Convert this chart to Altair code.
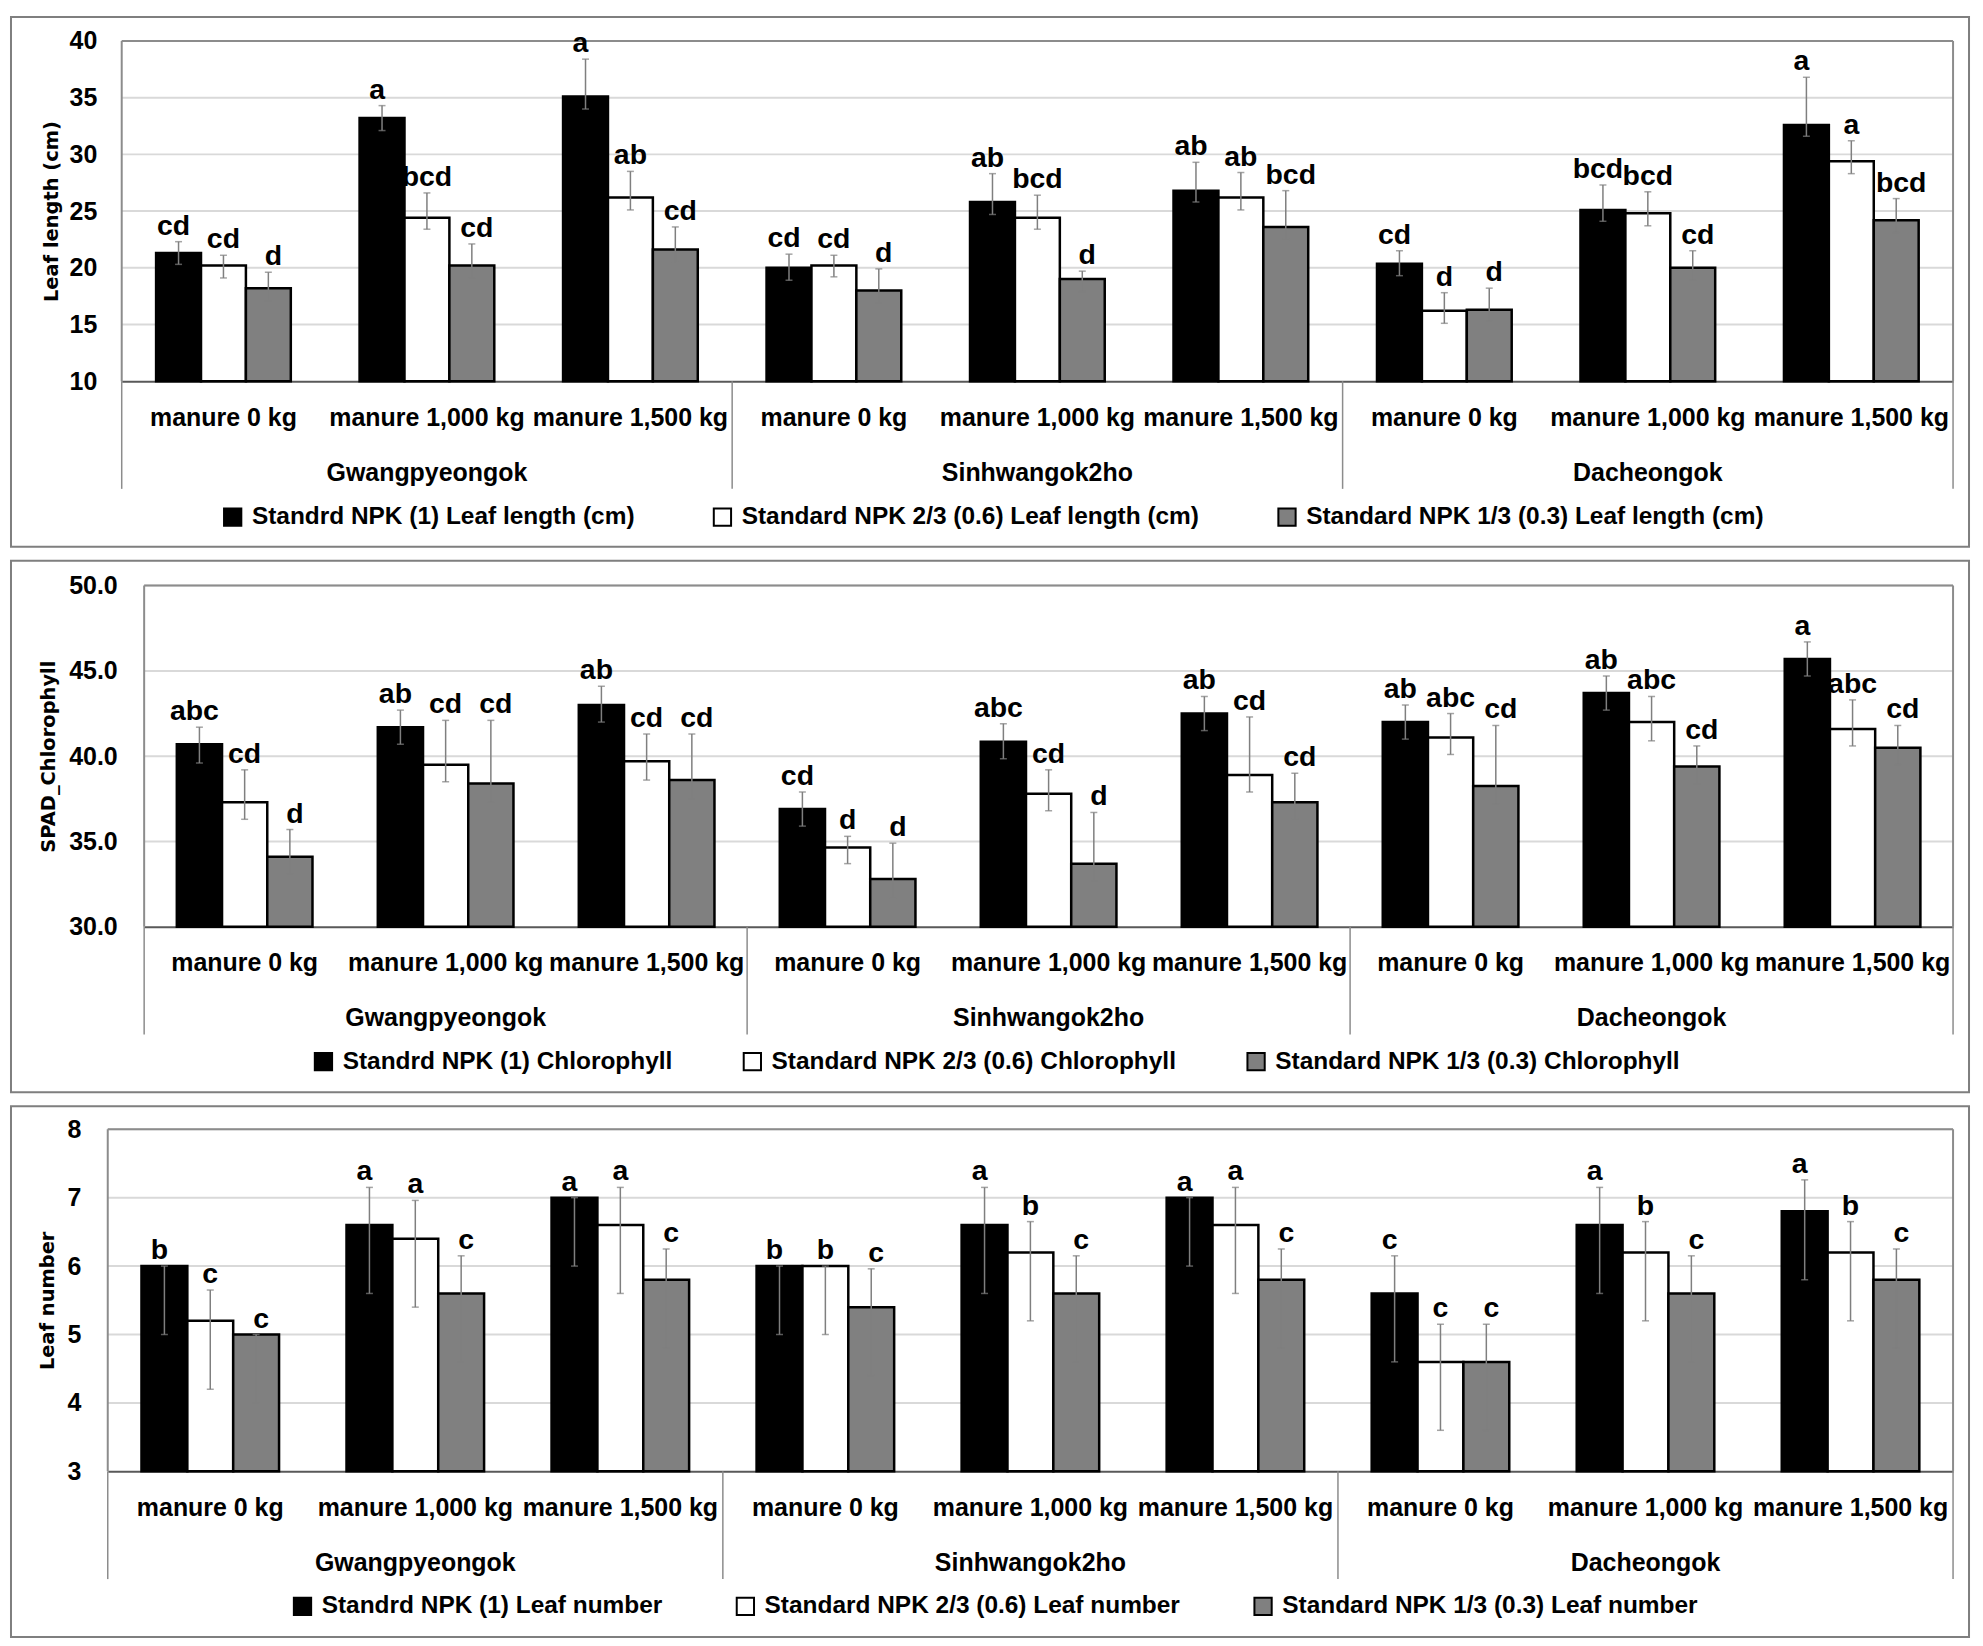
import altair as alt
import pandas as pd

# ---------------- data ----------------
cultivars = ["Gwangpyeongok", "Sinhwangok2ho", "Dacheongok"]
manures = ["manure 0 kg", "manure 1,000 kg", "manure 1,500 kg"]

# Panel 1: leaf length (cm)
len_series = ["Standrd NPK (1) Leaf length (cm)",
              "Standard NPK 2/3 (0.6) Leaf length (cm)",
              "Standard NPK 1/3 (0.3) Leaf length (cm)"]
len_std = [21.3, 33.2, 35.1, 20.0, 25.8, 26.8, 20.35, 25.1, 32.6]
len_23 = [20.2, 24.4, 26.2, 20.2, 24.4, 26.2, 16.2, 24.8, 29.4]
len_13 = [18.2, 20.2, 21.6, 18.0, 19.0, 23.6, 16.3, 20.0, 24.2]
len_std_lo = [20.3, 32.1, 34.0, 18.9, 24.7, 25.8, 19.3, 24.1, 31.6]
len_std_hi = [22.3, 34.3, 38.4, 21.2, 28.3, 29.3, 21.5, 27.3, 36.8]
len_23_lo = [19.1, 23.4, 25.1, 19.2, 23.4, 25.1, 15.1, 23.7, 28.3]
len_23_hi = [21.1, 26.6, 28.5, 21.1, 26.4, 28.4, 17.8, 26.7, 31.2]
len_13_lo = [17.1, 19.1, 20.5, 16.9, 17.9, 22.5, 15.3, 18.9, 23.1]
len_13_hi = [19.6, 22.1, 23.6, 19.9, 19.7, 26.8, 18.2, 21.5, 26.1]
len_std_let = ["cd", "a", "a", "cd", "ab", "ab", "cd", "bcd", "a"]
len_23_let = ["cd", "bcd", "ab", "cd", "bcd", "ab", "d", "bcd", "a"]
len_13_let = ["d", "cd", "cd", "d", "d", "bcd", "d", "cd", "bcd"]

# Panel 2: SPAD chlorophyll
chl_series = ["Standrd NPK (1) Chlorophyll",
              "Standard NPK 2/3 (0.6) Chlorophyll",
              "Standard NPK 1/3 (0.3) Chlorophyll"]
chl_std = [40.7, 41.7, 43.0, 36.9, 40.85, 42.5, 42.0, 43.7, 45.7]
chl_23 = [37.3, 39.5, 39.7, 34.65, 37.8, 38.9, 41.1, 42.0, 41.6]
chl_13 = [34.1, 38.4, 38.6, 32.8, 33.7, 37.3, 38.25, 39.4, 40.5]
chl_std_lo = [39.6, 40.7, 42.0, 35.9, 39.85, 41.5, 41.0, 42.7, 44.7]
chl_std_hi = [41.7, 42.7, 44.1, 37.9, 41.9, 43.5, 43.0, 44.7, 46.7]
chl_23_lo = [36.3, 38.5, 38.6, 33.7, 36.8, 37.9, 40.1, 40.9, 40.6]
chl_23_hi = [39.2, 42.1, 41.3, 35.3, 39.2, 42.3, 42.5, 43.5, 43.3]
chl_13_lo = [33.1, 37.3, 37.5, 31.7, 32.7, 36.3, 37.2, 38.4, 39.5]
chl_13_hi = [35.7, 42.1, 41.3, 34.9, 36.7, 39.0, 41.8, 40.6, 41.8]
chl_std_let = ["abc", "ab", "ab", "cd", "abc", "ab", "ab", "ab", "a"]
chl_23_let = ["cd", "cd", "cd", "d", "cd", "cd", "abc", "abc", "abc"]
chl_13_let = ["d", "cd", "cd", "d", "d", "cd", "cd", "cd", "cd"]

# Panel 3: leaf number
num_series = ["Standrd NPK (1) Leaf number",
              "Standard NPK 2/3 (0.6) Leaf number",
              "Standard NPK 1/3 (0.3) Leaf number"]
num_std = [6.0, 6.6, 7.0, 6.0, 6.6, 7.0, 5.6, 6.6, 6.8]
num_23 = [5.2, 6.4, 6.6, 6.0, 6.2, 6.6, 4.6, 6.2, 6.2]
num_13 = [5.0, 5.6, 5.8, 5.4, 5.6, 5.8, 4.6, 5.6, 5.8]
num_std_lo = [5.0, 5.6, 6.0, 5.0, 5.6, 6.0, 4.6, 5.6, 5.8]
num_std_hi = [6.0, 7.15, 7.0, 6.0, 7.15, 7.0, 6.15, 7.15, 7.26]
num_23_lo = [4.2, 5.4, 5.6, 5.0, 5.2, 5.6, 3.6, 5.2, 5.2]
num_23_hi = [5.65, 6.96, 7.15, 6.0, 6.65, 7.15, 5.15, 6.65, 6.65]
num_13_lo = [4.0, 4.6, 4.8, 4.4, 4.6, 4.8, 3.6, 4.6, 4.8]
num_13_hi = [5.0, 6.15, 6.25, 5.96, 6.15, 6.25, 5.15, 6.15, 6.25]
num_std_let = ["b", "a", "a", "b", "a", "a", "c", "a", "a"]
num_23_let = ["c", "a", "a", "b", "b", "a", "c", "b", "b"]
num_13_let = ["c", "c", "c", "c", "c", "c", "c", "c", "c"]

# ---------------- styling ----------------
LABEL_FONT = "Liberation Sans"
TITLE_FONT = "DejaVu Sans"
LETTER_FONT = "Liberation Sans"
LETTER_DX = [-5, 0, 5]
BAR_COLORS = ["#000000", "#ffffff", "#808080"]
GRID_COLOR = "#d9d9d9"
FRAME_COLOR = "#8c8c8c"
ERR_COLOR = "#7f7f7f"

CATS = [f"{c}|{m}" for c in cultivars for m in manures]
ONE = pd.DataFrame({"a": [0]})


def px_rule(x1, x2, y1, y2, color, w):
    return alt.Chart(ONE).mark_rule(color=color, strokeWidth=w).encode(
        x=alt.value(x1), x2=alt.value(x2), y=alt.value(y1), y2=alt.value(y2))


def panel(series, vals, lows, highs, letters, ytitle, ydomain, yticks, yfmt, L):
    rows = []
    for s in range(3):
        for i, cat in enumerate(CATS):
            rows.append(dict(cat=cat, sk=str(s), series=series[s], value=vals[s][i],
                             lo=lows[s][i], hi=highs[s][i], letter=letters[s][i]))
    df = pd.DataFrame(rows)

    W, H = L["W"], L["H"]
    left, right, top, bottom = L["left"], L["right"], L["top"], L["bottom"]
    p = L["pad"]
    step = (right - left) / 9.0

    xs = alt.Scale(domain=CATS, range=[left, right], paddingInner=p, paddingOuter=p / 2)
    xos = alt.Scale(domain=["0", "1", "2"], paddingInner=0, paddingOuter=0)
    ys = alt.Scale(domain=ydomain, range=[bottom, top], nice=False, zero=False)
    cs = alt.Scale(domain=series, range=BAR_COLORS)

    xax = alt.Axis(title=None, orient="bottom", offset=bottom - H, domain=True,
                   domainColor="#595959", domainWidth=2, ticks=False, grid=False,
                   labelPadding=24, labelFont=LABEL_FONT, labelFontSize=25,
                   labelFontWeight="bold", labelColor="black", labelAngle=0,
                   labelLimit=400, labelOverlap=False,
                   labelExpr="split(datum.label, '|')[1]")
    yax = alt.Axis(title=ytitle, orient="left", offset=-left, values=yticks, format=yfmt,
                   grid=False, domain=False, ticks=False, labelPadding=L["lpad"],
                   labelFont=LABEL_FONT, labelFontSize=25, labelFontWeight="bold",
                   labelColor="black", titleFont=TITLE_FONT, titleFontSize=19.5,
                   titleFontWeight="bold", titleColor="black", titlePadding=L["tpad"])

    X = alt.X("cat:N", scale=xs, axis=xax)
    XO = alt.XOffset("sk:N", scale=xos)

    grid = alt.Chart(pd.DataFrame({"v": yticks[1:]})).mark_rule(
        color=GRID_COLOR, strokeWidth=2).encode(
        y=alt.Y("v:Q", scale=ys, axis=yax), x=alt.value(left), x2=alt.value(right))

    legend = alt.Legend(orient="none", legendX=L["lx"], legendY=L["ly"],
                        direction="horizontal", title=None, symbolType="square",
                        symbolSize=300, symbolStrokeColor="black", symbolStrokeWidth=2,
                        labelFont=LABEL_FONT, labelFontSize=24.5, labelFontWeight="bold",
                        labelColor="black", labelOffset=7, labelLimit=1000,
                        columnPadding=L["cpad"], padding=0)

    bars = alt.Chart(df).mark_bar(stroke="black", strokeWidth=2.5).encode(
        x=X, xOffset=XO,
        y=alt.Y("value:Q", scale=ys, axis=yax), y2=alt.datum(ydomain[0]),
        color=alt.Color("series:N", scale=cs, legend=legend))

    err = alt.Chart(df).mark_rule(color=ERR_COLOR, strokeWidth=1.5).encode(
        x=X, xOffset=XO, y=alt.Y("lo:Q", scale=ys, axis=yax), y2="hi:Q")
    cap_lo = alt.Chart(df).mark_tick(color=ERR_COLOR, thickness=1.5, size=7,
                                     orient="horizontal").encode(
        x=X, xOffset=XO, y=alt.Y("lo:Q", scale=ys, axis=yax))
    cap_hi = alt.Chart(df).mark_tick(color=ERR_COLOR, thickness=1.5, size=7,
                                     orient="horizontal").encode(
        x=X, xOffset=XO, y=alt.Y("hi:Q", scale=ys, axis=yax))

    lets = []
    for s in range(3):
        lets.append(
            alt.Chart(df).transform_filter(alt.datum.sk == str(s)).mark_text(
                font=LETTER_FONT, fontWeight="bold", fontSize=28.5,
                baseline="alphabetic", dy=-7, dx=LETTER_DX[s], color="black").encode(
                x=X, xOffset=XO, y=alt.Y("hi:Q", scale=ys, axis=yax), text="letter:N"))

    groups = pd.DataFrame({"cat": [f"{c}|{manures[1]}" for c in cultivars],
                           "name": cultivars})
    glabels = alt.Chart(groups).mark_text(font=LABEL_FONT, fontWeight="bold", fontSize=25,
                                          baseline="middle", color="black").encode(
        x=X, y=alt.value(bottom + 92), text="name:N")

    frame = [px_rule(left, right, top, top, FRAME_COLOR, 2),
             px_rule(left, left, top, bottom, FRAME_COLOR, 2),
             px_rule(right, right, top, bottom, FRAME_COLOR, 2)]
    seps = [px_rule(left + k * 3 * step, left + k * 3 * step, bottom, bottom + 108,
                    FRAME_COLOR, 1.5) for k in range(4)]

    layers = [grid] + frame + [bars, err, cap_lo, cap_hi] + lets + [glabels] + seps
    return alt.layer(*layers).properties(width=W, height=H)


L1 = dict(W=1963, H=531, left=111, right=1947, top=24, bottom=365, pad=0.338,
          lpad=25, tpad=8, lx=210, ly=489, cpad=74)
L2 = dict(W=1963, H=533, left=133.5, right=1947, top=25, bottom=367, pad=0.325,
          lpad=27, tpad=10, lx=301, ly=490, cpad=66)
L3 = dict(W=1963, H=532, left=97, right=1947, top=23, bottom=366, pad=0.329,
          lpad=27, tpad=9, lx=280, ly=489, cpad=69)

p1 = panel(len_series, [len_std, len_23, len_13],
           [len_std_lo, len_23_lo, len_13_lo], [len_std_hi, len_23_hi, len_13_hi],
           [len_std_let, len_23_let, len_13_let], "Leaf length (cm)",
           [10, 40], [10, 15, 20, 25, 30, 35, 40], "d", L1)
p2 = panel(chl_series, [chl_std, chl_23, chl_13],
           [chl_std_lo, chl_23_lo, chl_13_lo], [chl_std_hi, chl_23_hi, chl_13_hi],
           [chl_std_let, chl_23_let, chl_13_let], "SPAD_Chlorophyll",
           [30, 50], [30, 35, 40, 45, 50], ".1f", L2)
p3 = panel(num_series, [num_std, num_23, num_13],
           [num_std_lo, num_23_lo, num_13_lo], [num_std_hi, num_23_hi, num_13_hi],
           [num_std_let, num_23_let, num_13_let], "Leaf number",
           [3, 8], [3, 4, 5, 6, 7, 8], "d", L3)

chart = alt.vconcat(p1, p2, p3, spacing=12).resolve_scale(
    x="independent", y="independent", color="independent", xOffset="independent"
).properties(
    padding={"left": 2, "top": 6, "right": 5, "bottom": 5},
    background="white",
).configure_view(stroke="#7f7f7f", strokeWidth=2)

chart.save("out.html", embed_options={"renderer": "svg", "actions": False})
